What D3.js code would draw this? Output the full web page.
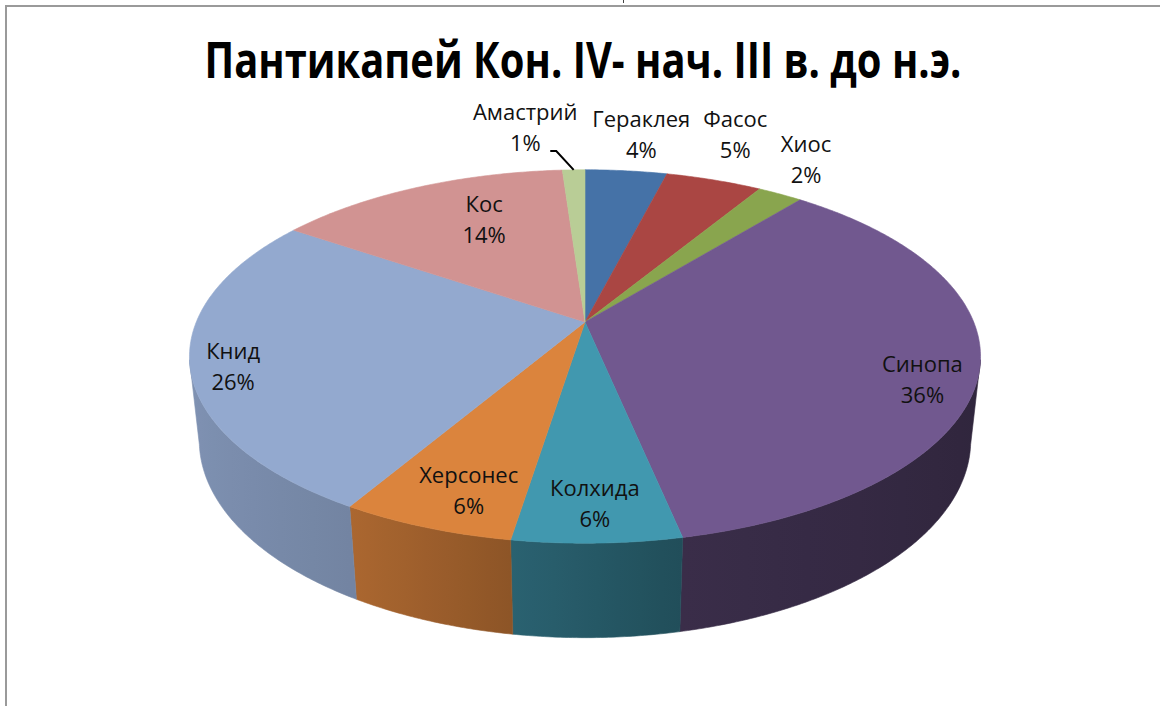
<!DOCTYPE html>
<html><head><meta charset="utf-8">
<script src="https://cdn.jsdelivr.net/npm/d3@7"></script>
<style>body{margin:0;background:#fff;} svg{display:block;}</style>
</head><body>
<svg id="chart" width="1160" height="706"></svg>
<script>
// ---------- data ----------
const title = "Пантикапей Кон. IV- нач. III в. до н.э.";
const categories = ["Гераклея","Фасос","Хиос","Синопа","Колхида","Херсонес","Книд","Кос","Амастрий"];
const values = [4.0, 4.7, 2.2, 35.8, 5.8, 6.0, 26.0, 14.4, 1.1];
const colors = ["#4572A7","#AA4643","#89A54E","#71588F","#4198AF","#DB843D","#93A9CF","#D19392","#B9CD96"];

// ---------- label layout (radius in pie units, pixel nudges) ----------
const labelR  = [1.15, 1.15, 1.15, 0.85, 0.85, 0.85, 0.85, 0.85, 1.15];
const labelDx = [10, 5, 1, 4, 0, 15, -18, 44, -47];
const labelDy = [-16, -26, -17, 21, 1, 1, 11, 16, -22];
const leader  = [false,false,false,false,false,false,false,false,true];

// ---------- geometry ----------
const svg = d3.select("#chart");
const defs = svg.append("defs");
const cx = 585, cy = 322;
const tilt = 28*Math.PI/180, camD = 4.78, focal = 1836, xStretch = 1.012, thick = 0.25;
const ct = Math.cos(tilt), st = Math.sin(tilt);
function project(a, r, yw){
  const X = r*Math.sin(a), Z = -r*Math.cos(a);
  const yc = yw*ct - Z*st;
  const depth = camD - (Z*ct + yw*st);
  return [cx + focal*xStretch*X/depth, cy - focal*yc/depth];
}

const pie = d3.pie().sort(null).value(d=>d)
  .startAngle(0).endAngle(2*Math.PI);
const arcs = pie(values);
const total = d3.sum(values);
const shade = d3.scaleLinear().domain([-1,-0.5,-0.15,0.21,1]).range([0.87,0.78,0.64,0.51,0.42]).clamp(true);
const line = d3.line();

// frame
svg.append("path").attr("d","M6,706 V6 H1160").attr("fill","none")
  .attr("stroke","#9a9a9a").attr("stroke-width",2);
svg.append("line").attr("x1",623.5).attr("x2",623.5).attr("y1",0).attr("y2",3)
  .attr("stroke","#444").attr("stroke-width",1);

// visible (camera-facing) angular range of the side wall
const cosLim = -0.85/(camD*ct);
const visA0 = Math.acos(cosLim), visA1 = 2*Math.PI - visA0;
const sideG = svg.append("g");
arcs.forEach((d,i)=>{
  const a0 = Math.max(d.startAngle, visA0), a1 = Math.min(d.endAngle, visA1);
  if (a1 <= a0) return;
  const n = Math.max(2, Math.ceil((a1-a0)/(0.5*Math.PI/180)));
  const top = [], bot = [];
  for(let k=0;k<=n;k++){
    const a = a0+(a1-a0)*k/n;
    top.push(project(a,1,0)); bot.push(project(a,1,-thick));
  }
  const xA = top[0][0], xB = top[n][0];
  const gid = "side"+i;
  const g = defs.append("linearGradient").attr("id",gid).attr("gradientUnits","userSpaceOnUse")
    .attr("x1",xA).attr("y1",0).attr("x2",xB).attr("y2",0);
  const c = d3.rgb(colors[i]);
  const m = 8;
  for(let k=0;k<=m;k++){
    const a = a0+(a1-a0)*k/m;
    const px = project(a,1,0)[0];
    const f = shade(Math.sin(a));
    g.append("stop").attr("offset", (xB===xA)?0:(px-xA)/(xB-xA))
      .attr("stop-color", d3.rgb(c.r*f,c.g*f,c.b*f).formatHex());
  }
  const pts = top.concat(bot.reverse());
  sideG.append("path").attr("d", line(pts)+"Z").attr("fill","url(#"+gid+")")
    .attr("stroke","url(#"+gid+")").attr("stroke-width",0.6);
});

// tops
svg.append("g").selectAll("path").data(arcs).join("path")
  .attr("d", d=>{
    const n = Math.max(2, Math.ceil((d.endAngle-d.startAngle)/(0.5*Math.PI/180)));
    const pts = [project(0,0,0)];
    for(let k=0;k<=n;k++) pts.push(project(d.startAngle+(d.endAngle-d.startAngle)*k/n,1,0));
    return line(pts)+"Z";
  })
  .attr("fill",(d,i)=>colors[i]).attr("stroke",(d,i)=>colors[i]).attr("stroke-width",0.6);

// title
svg.append("text").attr("x",583).attr("y",78).attr("text-anchor","middle")
  .attr("font-family","'Open Sans', sans-serif").attr("font-weight",700)
  .attr("font-size",50).attr("textLength",757).attr("lengthAdjust","spacingAndGlyphs")
  .attr("fill","#000").text(title);

// labels
const lg = svg.append("g").attr("font-family","'Open Sans', sans-serif").attr("font-size",22).attr("fill","#111");
arcs.forEach((d,i)=>{
  const am = (d.startAngle+d.endAngle)/2;
  const p = project(am, labelR[i], 0);
  const x = p[0]+labelDx[i], y = p[1]+labelDy[i];
  const pct = Math.round(values[i]/total*100)+"%";
  lg.append("text").attr("x",x).attr("y",y-9).attr("text-anchor","middle").text(categories[i]);
  lg.append("text").attr("x",x).attr("y",y+22).attr("text-anchor","middle").text(pct);
  if (leader[i]){
    const e = project(am, 1.0, 0);
    svg.append("path").attr("d", line([[x+25,y+22],[x+31,y+22],e]))
      .attr("fill","none").attr("stroke","#000").attr("stroke-width",2);
  }
});
</script>
</body></html>
